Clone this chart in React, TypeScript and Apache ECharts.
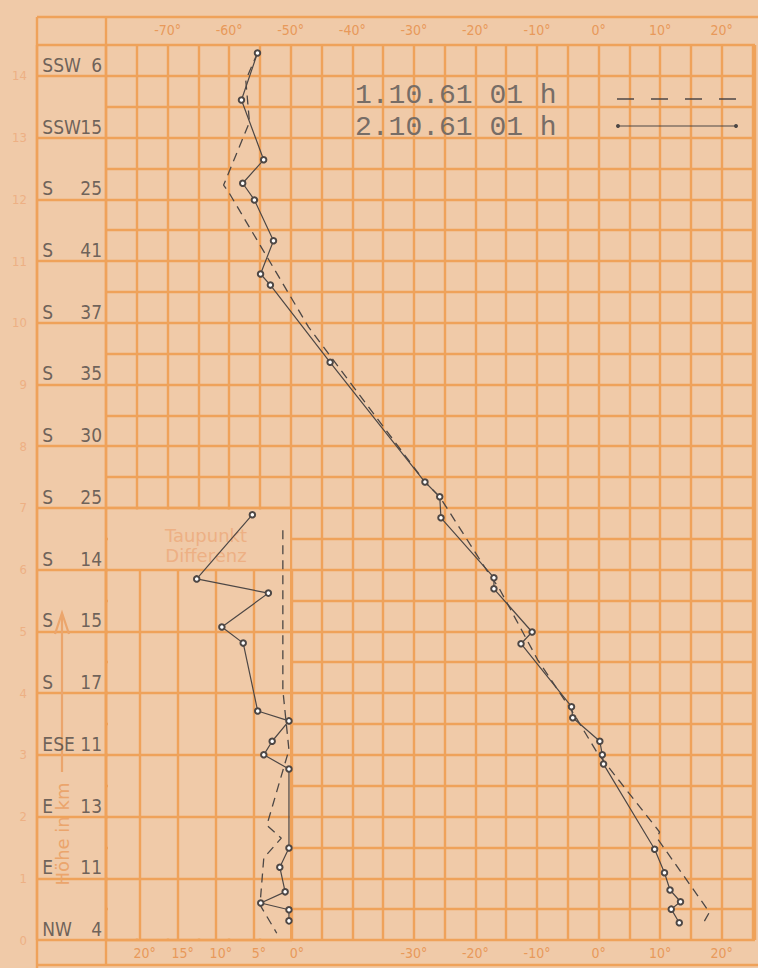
import React, { useEffect, useRef } from "react";
import * as echarts from "echarts";

// ---------- data ----------
const heightTicks = [0, 1, 2, 3, 4, 5, 6, 7, 8, 9, 10, 11, 12, 13, 14];
const windDirections = ["NW", "E", "E", "ESE", "S", "S", "S", "S", "S", "S", "S", "S", "S", "SSW", "SSW"];
const windSpeeds = ["4", "11", "13", "11", "17", "15", "14", "25", "30", "35", "37", "41", "25", "15", "6"];
const topTempTicks = [-70, -60, -50, -40, -30, -20, -10, 0, 10, 20];
const bottomTempTicks = [-30, -20, -10, 0, 10, 20];
const dewTicks = [20, 15, 10, 5, 0];

// 1.10.61 01 h (dashed)
const temp1Oct = [-55.4, -57.3, -56.7, -60.9, -60.1, -47.1, -28.2, -25.8, -18.5, -16.0, -9.9, -4.2, -0.2, 9.9, 9.5, 18.0, 16.8];
const height1Oct = [14.37, 13.93, 13.25, 12.23, 12.12, 9.93, 7.42, 7.18, 6.04, 5.67, 4.54, 3.69, 3.03, 1.75, 1.65, 0.45, 0.24];

// 2.10.61 01 h (solid with circles)
const temp2Oct = [-55.4, -58.0, -54.4, -57.8, -55.9, -52.8, -54.9, -53.3, -43.6, -28.2, -25.8, -25.6, -17.0, -17.0, -10.8, -12.6, -4.4, -4.2, 0.2, 0.6, 0.8, 9.1, 10.7, 11.6, 13.3, 11.8, 13.1];
const height2Oct = [14.37, 13.61, 12.64, 12.26, 11.99, 11.33, 10.79, 10.61, 9.36, 7.42, 7.18, 6.84, 5.87, 5.69, 4.99, 4.8, 3.78, 3.6, 3.22, 3.0, 2.85, 1.47, 1.09, 0.81, 0.62, 0.5, 0.28];

// Taupunkt-Differenz (dew point spread)
const dew1Oct = [1.2, 1.2, 0.4, 3.3, 1.4, 3.7, 4.2, 2.0];
const dewHeight1Oct = [6.64, 4.05, 3.08, 1.86, 1.65, 1.33, 0.57, 0.11];
const dew2Oct = [5.2, 12.5, 3.1, 9.2, 6.4, 4.5, 0.4, 2.6, 3.7, 0.4, 0.4, 1.6, 0.9, 4.1, 0.4, 0.4];
const dewHeight2Oct = [6.89, 5.85, 5.62, 5.07, 4.81, 3.71, 3.55, 3.22, 3.0, 2.77, 1.49, 1.18, 0.78, 0.6, 0.49, 0.31];

const legendLabels = ["1.10.61 01 h", "2.10.61 01 h"];
const insetTitle = ["Taupunkt", "Differenz"];
const heightTitle = "Höhe in km";

// ---------- styles / layout ----------
const W = 758;
const H = 968;
const PAPER = "#F0CAA8";
const GRID = "#EFA25A";
const GW = 2.4;
const INK = "#4d4745";
const LABEL_ORANGE = "#E8995A";
const PALE_ORANGE = "#EDB084";
const SANS = "DejaVu Sans Condensed, DejaVu Sans";

const PLOT_LEFT = 106;
const PLOT_TOP = 45;
const PLOT_BOTTOM_Y = 940;
const Y_MAX = 14.5;
const PX_PER_KM = (PLOT_BOTTOM_Y - PLOT_TOP) / Y_MAX;
const yOf = (km: number) => PLOT_BOTTOM_Y - km * PX_PER_KM;
const INSET_RIGHT_X = 292;

const zip = (a: number[], b: number[]) => a.map((v, i) => [v, b[i]]);

export default function App() {
  const ref = useRef<HTMLDivElement>(null);

  useEffect(() => {
    if (!ref.current) return;
    const chart = echarts.init(ref.current, undefined, { renderer: "svg" });

    const split = { show: true, lineStyle: { color: GRID, width: GW } };
    const noAxis = { axisLine: { show: false }, axisTick: { show: false } };

    const option: any = {
      animation: false,
      backgroundColor: PAPER,
      grid: [
        { left: PLOT_LEFT, right: 0, top: PLOT_TOP, bottom: H - PLOT_BOTTOM_Y },
        { left: 37, right: W - PLOT_LEFT, top: PLOT_TOP, bottom: H - PLOT_BOTTOM_Y },
        { left: PLOT_LEFT, right: W - INSET_RIGHT_X, top: yOf(7), bottom: H - PLOT_BOTTOM_Y },
        { left: PLOT_LEFT, right: W - INSET_RIGHT_X, top: yOf(6), bottom: H - PLOT_BOTTOM_Y },
      ],
      xAxis: [
        {
          gridIndex: 0, type: "value", position: "top", min: -80, max: 25.4, interval: 5,
          splitLine: split, ...noAxis,
          axisLabel: {
            formatter: (v: number) => (topTempTicks.includes(v) ? v + "°" : ""),
            color: LABEL_ORANGE, fontSize: 14, margin: 8, fontFamily: SANS,
          },
        },
        {
          gridIndex: 0, type: "value", position: "bottom", min: -80, max: 25.4, interval: 5,
          splitLine: { show: false }, ...noAxis,
          axisLabel: {
            formatter: (v: number) => (bottomTempTicks.includes(v) ? v + "°" : ""),
            color: LABEL_ORANGE, fontSize: 14, margin: 6, fontFamily: SANS,
          },
        },
        {
          gridIndex: 1, type: "value", min: 0, max: 1, interval: 1,
          splitLine: split, ...noAxis, axisLabel: { show: false },
        },
        {
          gridIndex: 2, type: "value", min: 0, max: 24.4, inverse: true, interval: 5,
          splitLine: { show: false }, ...noAxis, axisLabel: { show: false },
        },
        {
          gridIndex: 3, type: "value", min: 0, max: 24.4, inverse: true, interval: 5, z: 3,
          splitLine: split, ...noAxis,
          axisLabel: {
            formatter: (v: number) => (dewTicks.includes(v) ? v + "°" : ""),
            color: LABEL_ORANGE, fontSize: 14, margin: 6, fontFamily: SANS,
            padding: [0, 0, 0, 10],
          },
        },
      ],
      yAxis: [
        {
          gridIndex: 0, type: "value", min: 0, max: Y_MAX, interval: 0.5,
          splitLine: split, ...noAxis, axisLabel: { show: false },
        },
        {
          gridIndex: 1, type: "value", min: 0, max: Y_MAX, interval: 1,
          splitLine: split, ...noAxis,
          axisLabel: {
            formatter: (v: number) => (heightTicks.includes(v) ? String(v) : ""),
            color: PALE_ORANGE, fontSize: 13, margin: 10, fontFamily: SANS,
            padding: [0, 0, 6, 0],
          },
        },
        {
          gridIndex: 2, type: "value", min: 0, max: 7, interval: 1, z: 3,
          splitLine: split, ...noAxis, axisLabel: { show: false },
        },
        {
          gridIndex: 3, type: "value", min: 0, max: 6, interval: 1,
          splitLine: { show: false }, ...noAxis, axisLabel: { show: false },
        },
      ],
      series: [
        {
          name: legendLabels[0], type: "line", xAxisIndex: 0, yAxisIndex: 0, z: 10,
          data: zip(temp1Oct, height1Oct), symbol: "none",
          lineStyle: { color: INK, width: 1.3, type: [9, 6] },
        },
        {
          name: legendLabels[1], type: "line", xAxisIndex: 0, yAxisIndex: 0, z: 10,
          data: zip(temp2Oct, height2Oct), symbol: "emptyCircle", symbolSize: 5.5,
          itemStyle: { color: INK, borderWidth: 1.2 },
          lineStyle: { color: INK, width: 1.2 },
        },
        {
          name: legendLabels[0] + " TD", type: "line", xAxisIndex: 4, yAxisIndex: 3, z: 10, clip: false,
          data: zip(dew1Oct, dewHeight1Oct), symbol: "none",
          lineStyle: { color: INK, width: 1.3, type: [9, 6] },
        },
        {
          name: legendLabels[1] + " TD", type: "line", xAxisIndex: 4, yAxisIndex: 3, z: 10, clip: false,
          data: zip(dew2Oct, dewHeight2Oct), symbol: "emptyCircle", symbolSize: 5.5,
          itemStyle: { color: INK, borderWidth: 1.2 },
          lineStyle: { color: INK, width: 1.2 },
        },
        {
          type: "scatter", xAxisIndex: 2, yAxisIndex: 1, z: 10, symbolSize: 1, silent: true,
          itemStyle: { color: "rgba(0,0,0,0)" },
          data: heightTicks.map((k) => [0.07, k]),
          label: {
            show: true, position: [0, 0], align: "left", verticalAlign: "bottom", offset: [1, -1],
            formatter: (p: any) => windDirections[p.dataIndex],
            color: INK, fontSize: 19, fontFamily: SANS,
          },
        },
        {
          type: "scatter", xAxisIndex: 2, yAxisIndex: 1, z: 10, symbolSize: 1, silent: true,
          itemStyle: { color: "rgba(0,0,0,0)" },
          data: heightTicks.map((k) => [0.95, k]),
          label: {
            show: true, position: [0, 0], align: "right", verticalAlign: "bottom", offset: [0, -1],
            formatter: (p: any) => windSpeeds[p.dataIndex],
            color: INK, fontSize: 19, fontFamily: SANS,
          },
        },
      ],
      graphic: [
        // frame
        { type: "line", z: 1, shape: { x1: 37, y1: 17, x2: W, y2: 17 }, style: { stroke: GRID, lineWidth: GW } },
        { type: "line", z: 1, shape: { x1: 37, y1: 17, x2: 37, y2: H }, style: { stroke: GRID, lineWidth: GW } },
        { type: "line", z: 1, shape: { x1: 37, y1: 965, x2: W, y2: 965 }, style: { stroke: GRID, lineWidth: GW } },
        { type: "line", z: 1, shape: { x1: PLOT_LEFT, y1: 17, x2: PLOT_LEFT, y2: PLOT_TOP }, style: { stroke: GRID, lineWidth: GW } },
        { type: "line", z: 1, shape: { x1: PLOT_LEFT, y1: PLOT_BOTTOM_Y, x2: PLOT_LEFT, y2: 965 }, style: { stroke: GRID, lineWidth: GW } },
        // inset cover
        {
          type: "rect", z: 1,
          shape: { x: PLOT_LEFT + 2, y: yOf(7) + 1.5, width: INSET_RIGHT_X - PLOT_LEFT - 4, height: PLOT_BOTTOM_Y - yOf(7) - 3 },
          style: { fill: PAPER },
        },
        {
          type: "text", z: 4, x: 206, y: 535,
          style: { text: insetTitle[0], fill: PALE_ORANGE, font: "18px 'DejaVu Sans'", align: "center", verticalAlign: "middle" },
        },
        {
          type: "text", z: 4, x: 206, y: 555,
          style: { text: insetTitle[1], fill: PALE_ORANGE, font: "18px 'DejaVu Sans'", align: "center", verticalAlign: "middle" },
        },
        // height axis title + arrow
        {
          type: "text", z: 4, x: 62, y: 834, rotation: Math.PI / 2,
          style: { text: heightTitle, fill: "#EBA56C", font: "18px 'DejaVu Sans'", align: "center", verticalAlign: "middle" },
        },
        { type: "line", z: 4, shape: { x1: 62, y1: 772, x2: 62, y2: 614 }, style: { stroke: "#EBA56C", lineWidth: 2.2 } },
        { type: "polyline", z: 4, shape: { points: [[55, 634], [62, 613], [69, 634]] }, style: { stroke: "#EBA56C", lineWidth: 2.2, fill: "none" } },
        // legend
        {
          type: "text", z: 4, x: 355, y: 95,
          style: { text: legendLabels[0], fill: "#776d66", font: "28px 'Liberation Mono'", verticalAlign: "middle" },
        },
        {
          type: "text", z: 4, x: 355, y: 127,
          style: { text: legendLabels[1], fill: "#776d66", font: "28px 'Liberation Mono'", verticalAlign: "middle" },
        },
        { type: "line", z: 4, shape: { x1: 617, y1: 99, x2: 738, y2: 99 }, style: { stroke: INK, lineWidth: 1.3, lineDash: [17, 17] } },
        { type: "line", z: 4, shape: { x1: 618, y1: 126, x2: 736, y2: 126 }, style: { stroke: INK, lineWidth: 1.2 } },
        { type: "circle", z: 4, shape: { cx: 618, cy: 126, r: 2 }, style: { fill: INK } },
        { type: "circle", z: 4, shape: { cx: 736, cy: 126, r: 2 }, style: { fill: INK } },
      ],
    };

    chart.setOption(option);
    return () => chart.dispose();
  }, []);

  return (
    <div
      ref={ref}
      style={{ position: "absolute", left: 0, top: 0, width: W, height: H }}
    />
  );
}
